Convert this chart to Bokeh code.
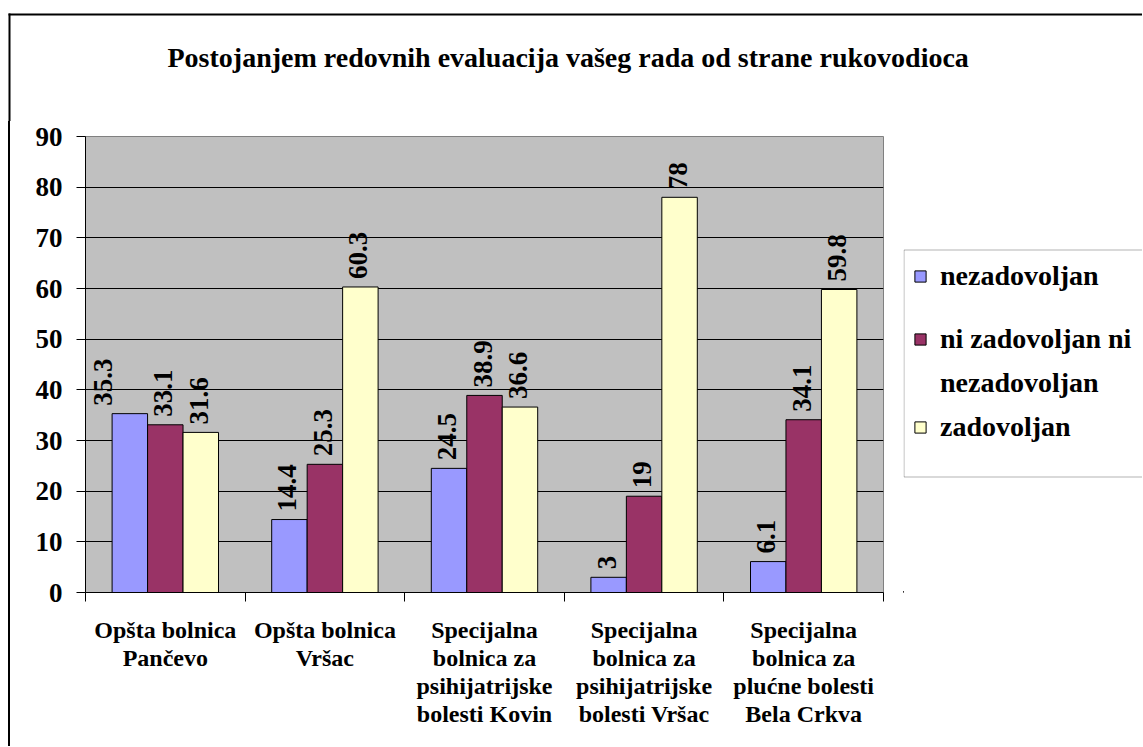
import math
from bokeh.plotting import figure
from bokeh.layouts import column, row
from bokeh.models import (Range1d, FixedTicker, Legend, LegendItem, ColumnDataSource,
                          BoxAnnotation, Label, Spacer, Div)
from bokeh.core.properties import value
from bokeh.embed import file_html
from bokeh.resources import INLINE

# ---------------- data ----------------
title_text = "Postojanjem redovnih evaluacija vašeg rada od strane rukovodioca"
categories = [
    "Opšta bolnica\nPančevo",
    "Opšta bolnica\nVršac",
    "Specijalna\nbolnica za\npsihijatrijske\nbolesti Kovin",
    "Specijalna\nbolnica za\npsihijatrijske\nbolesti Vršac",
    "Specijalna\nbolnica za\nplućne bolesti\nBela Crkva",
]
series_labels = ["nezadovoljan", "ni zadovoljan ni", "nezadovoljan", "zadovoljan"]
nezadovoljan = [35.3, 14.4, 24.5, 3, 6.1]
ni_zadovoljan_ni_nezadovoljan = [33.1, 25.3, 38.9, 19, 34.1]
zadovoljan = [31.6, 60.3, 36.6, 78, 59.8]
y_ticks = [0, 10, 20, 30, 40, 50, 60, 70, 80, 90]

# ---------------- style ----------------
FONT = "Liberation Serif"
colors = ["#9999FF", "#993366", "#FFFFCC"]
bar_w = 1 / 4.5
offsets = [-bar_w, 0.0, bar_w]
label_nudge = {(0, 0): -27}  # data-label x nudge (px) for a crowded label

W_TOTAL, H_TOTAL = 1142, 746
TOP_H = 121
GAP_W, LINE_W, MAIN_W = 8, 2, 893
LEG_W = W_TOTAL - GAP_W - LINE_W - MAIN_W
ROW_H = H_TOTAL - TOP_H
MB_TOP, FRAME_H = 15, 456
MB_BOTTOM = ROW_H - MB_TOP - FRAME_H
FRAME_TOP_PAGE = TOP_H + MB_TOP               # 136
FRAME_BOTTOM_PAGE = FRAME_TOP_PAGE + FRAME_H  # 592


def no_align(f):
    try:
        f.frame_align = False
    except Exception:
        pass


def blank(w, h, fill="white", **kw):
    opts = dict(min_border=0)
    opts.update(kw)
    f = figure(width=w, height=h, x_axis_location=None, y_axis_location=None,
               toolbar_location=None, output_backend="svg", **opts)
    f.xgrid.visible = False
    f.ygrid.visible = False
    f.outline_line_color = None
    f.background_fill_color = fill
    f.border_fill_color = fill
    no_align(f)
    return f


# ---------- top strip: outer border top edge + title ----------
top = blank(W_TOTAL, TOP_H, x_range=Range1d(0, W_TOTAL), y_range=Range1d(0, TOP_H))
top.add_layout(BoxAnnotation(left=8, right=W_TOTAL + 50, top=TOP_H - 13, bottom=TOP_H - 15,
                             fill_color="black", fill_alpha=1, line_alpha=0))
top.add_layout(BoxAnnotation(left=8, right=10, top=TOP_H - 13, bottom=-20,
                             fill_color="black", fill_alpha=1, line_alpha=0))
top.add_layout(Label(x=167, y=TOP_H - 57, text=title_text, text_align="left",
                     text_baseline="alphabetic", text_font=FONT, text_font_size="28px",
                     text_font_style="bold", text_color="black"))

# ---------- left edge of the outer border ----------
gap = Spacer(width=GAP_W, height=ROW_H)
edge = Div(text="", width=LINE_W, height=ROW_H,
           styles={"background-color": "black", "margin": "0", "padding": "0"})

# ---------- main chart ----------
p = figure(width=MAIN_W, height=ROW_H,
           x_range=Range1d(0, len(categories)), y_range=Range1d(0, 90),
           output_backend="svg", toolbar_location=None,
           min_border_left=75, min_border_right=20,
           min_border_top=MB_TOP, min_border_bottom=MB_BOTTOM)
no_align(p)
p.background_fill_color = "#C0C0C0"
p.border_fill_color = "white"
p.outline_line_color = "#808080"
p.outline_line_width = 1

p.xgrid.visible = False
p.ygrid.ticker = FixedTicker(ticks=y_ticks[1:-1])
p.ygrid.grid_line_color = "black"
p.ygrid.grid_line_width = 1

ya = p.yaxis[0]
ya.ticker = FixedTicker(ticks=y_ticks)
ya.major_label_text_font = FONT
ya.major_label_text_font_size = "27px"
ya.major_label_text_font_style = "bold"
ya.major_label_text_color = "black"
ya.major_tick_out = 9
ya.major_tick_in = 0
ya.major_tick_line_color = "black"
ya.minor_tick_line_color = None
ya.axis_line_color = "black"
ya.major_label_standoff = 14

xa = p.xaxis[0]
centers = [i + 0.5 for i in range(len(categories))]
xa.ticker = FixedTicker(ticks=centers, minor_ticks=list(range(len(categories) + 1)))
xa.major_label_overrides = {c: lab for c, lab in zip(centers, categories)}
xa.major_label_text_font = FONT
xa.major_label_text_font_size = "24px"
xa.major_label_text_font_style = "bold"
xa.major_label_text_color = "black"
xa.major_label_text_line_height = 1.08
xa.major_tick_line_color = None
xa.major_tick_out = 9
xa.major_tick_in = 0
xa.minor_tick_line_color = "black"
xa.minor_tick_out = 9
xa.minor_tick_in = 0
xa.axis_line_color = "black"
xa.major_label_standoff = 15

series = [nezadovoljan, ni_zadovoljan_ni_nezadovoljan, zadovoljan]
lx, ly, lt, ldx = [], [], [], []
for s, vals in enumerate(series):
    xs = [c + offsets[s] for c in centers]
    src = ColumnDataSource(dict(x=xs, top=vals))
    p.vbar(x="x", top="top", width=bar_w, source=src,
           fill_color=colors[s], line_color="black", line_width=1)
    for i, v in enumerate(vals):
        lx.append(xs[i]); ly.append(v); lt.append(f"{v:g}")
        ldx.append(label_nudge.get((s, i), -2))

lab_src = ColumnDataSource(dict(x=lx, y=ly, text=lt, dx=ldx))
p.text(x="x", y="y", text="text", source=lab_src, angle=math.pi / 2,
       x_offset="dx", y_offset=-8,
       text_align="left", text_baseline="middle",
       text_font=value(FONT), text_font_size="27px", text_font_style="bold",
       text_color="black")

# ---------- legend panel (frame shares the main frame's vertical extent) ----------
leg = blank(LEG_W, ROW_H, x_range=Range1d(0, LEG_W), y_range=Range1d(0, FRAME_H),
            min_border_top=MB_TOP, min_border_bottom=MB_BOTTOM,
            min_border_left=0, min_border_right=0)


def py(page_y):  # page pixel row -> legend-panel data y
    return FRAME_BOTTOM_PAGE - page_y


leg.add_layout(BoxAnnotation(left=0.5, right=LEG_W + 60,
                             top=py(249.5), bottom=py(476.5),
                             fill_color="white", fill_alpha=1,
                             line_color="black", line_width=1))
# legend swatch renderers (kept outside the visible range)
lr = [leg.vbar(x=[-1000], top=[1], width=1, fill_color=c, line_color="black", line_width=1)
      for c in colors]
dummy = leg.vbar(x=[-1000], top=[1], width=1, fill_alpha=0, line_alpha=0)


def make_legend(items, loc, spacing):
    return Legend(items=items, location=loc, orientation="vertical",
                  padding=0, margin=0, spacing=spacing,
                  border_line_color=None, background_fill_alpha=0,
                  glyph_width=14, glyph_height=14, label_height=30,
                  label_standoff=13,
                  label_text_font=FONT, label_text_font_size="28px",
                  label_text_font_style="bold", label_text_color="black")


leg_a = make_legend([LegendItem(label=series_labels[0], renderers=[lr[0]])],
                    (10, py(292)), 0)
leg_b = make_legend([LegendItem(label=series_labels[1], renderers=[lr[1]]),
                     LegendItem(label=series_labels[2], renderers=[dummy]),
                     LegendItem(label=series_labels[3], renderers=[lr[2]])],
                    (10, py(443)), 12)
leg.add_layout(leg_a, "center")
leg.add_layout(leg_b, "center")

layout = column(top, row(gap, edge, p, leg))
open("out.html", "w").write(file_html(layout, INLINE))
